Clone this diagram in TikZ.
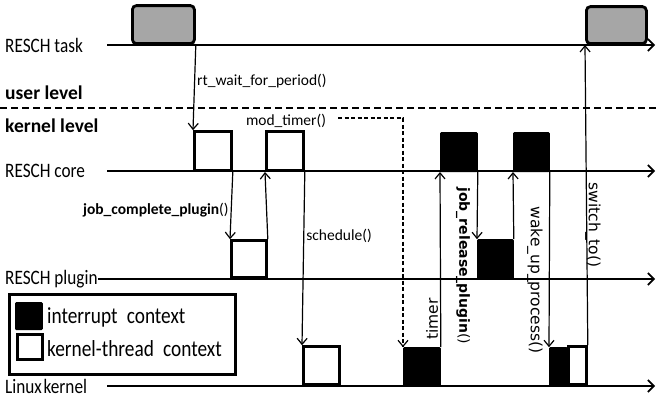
\documentclass[tikz,border=0pt]{standalone}
\usepackage{fontspec}
\setmainfont{Carlito}
\newfontfamily\rotfont{DejaVu Sans}
\usetikzlibrary{arrows.meta}
\tikzset{
  lane/.style={anchor=west,inner sep=0pt,xscale=0.84,font=\fontsize{20.5}{20.5}\selectfont},
  level/.style={anchor=west,inner sep=0pt,font=\fontsize{19.5}{19.5}\selectfont\bfseries},
  timeline/.style={line width=1.7pt,-{Straight Barb[length=6pt,width=12pt,line width=1.6pt]}},
  taskbox/.style={draw,line width=2.8pt,fill=gray!70,rounded corners=4pt,inner sep=0pt,anchor=south west},
  kthread/.style={draw,line width=2.8pt,fill=white,inner sep=0pt,anchor=south west},
  intr/.style={draw,line width=0.8pt,fill=black,rounded corners=1pt,inner sep=0pt,anchor=south west},
  call/.style={line width=1.2pt,-{Straight Barb[length=6pt,width=10pt,line width=1.2pt]}},
  dcall/.style={call,dash pattern=on 4pt off 2.5pt},
  callname/.style={inner sep=2pt,font=\fontsize{15.5}{15.5}\selectfont},
  rotname/.style={inner sep=0pt,font=\rotfont\fontsize{15.5}{15.5}\selectfont},
  legtext/.style={anchor=west,inner sep=0pt,xscale=0.84,font=\fontsize{23}{23}\selectfont}
}
\begin{document}
\begin{tikzpicture}[x=1pt,y={(0,-1pt)}]
\useasboundingbox (0,0) rectangle (659,399);

% lanes
\node[lane] (task) at (5,45) {RESCH task};
\node[lane] (core) at (5,171) {RESCH core};
\node[lane] (plugin) at (5,279) {RESCH plugin};
\node[lane] (linux) at (5,386) {Linux\hspace{0.1em}kernel};
\node[level] (user) at (5,93) {user level};
\node[level] (kernel) at (5,126) {kernel level};
\coordinate (ul) at (0,108);
\coordinate (ur) at (659,108);
\draw[line width=2.2pt,dash pattern=on 7pt off 4pt] (ul) -- (ur);
\draw[timeline] (107,45) -- (655,45);
\draw[timeline] (107,171) -- (655,171);
\draw[timeline] (plugin.east) -- (655,279);
\draw[timeline] (107,386) -- (655,386);

% boxes
\node[taskbox,minimum width=62,minimum height=38] (t1) at (131,45) {};
\node[taskbox,minimum width=60,minimum height=37] (t2) at (585,45) {};
\node[kthread,minimum width=37,minimum height=39] (c1) at (193,172) {};
\node[kthread,minimum width=37,minimum height=39] (c2) at (265,172) {};
\node[intr,minimum width=37,minimum height=39] (c3) at (440,172) {};
\node[intr,minimum width=36,minimum height=39] (c4) at (513,172) {};
\node[kthread,minimum width=35,minimum height=37] (p1) at (230,279) {};
\node[intr,minimum width=36,minimum height=39] (p2) at (477,279) {};
\node[kthread,minimum width=36,minimum height=38] (k1) at (302,386) {};
\node[intr,minimum width=37,minimum height=38] (k2) at (403,386) {};
\node[intr,minimum width=18,minimum height=38] (k3) at (549,386) {};
\node[kthread,minimum width=18,minimum height=38] (k4) at (567,386) {};

% calls
\draw[call] (t1.south east) -- node[callname,pos=0.42,right] (rtw) {rt\_wait\_for\_period()} (c1.north west);
\draw[call] (c1.south east) -- node[callname,pos=0.57,left] (jcp) {{\bfseries job\_complete\_plugin}()} (p1.north west);
\draw[call] (p1.north east) -- (c2.south west);
\draw[call] (c2.south east) -- node[callname,pos=0.37,right] (sch) {schedule()} (k1.north west);
\node[callname] (mtl) at (286,121) {mod\_timer()};
\coordinate (mt) at (338,118);
\draw[dcall] (mt) -| (k2.north west);
\draw[call] (k2.north east) -- (c3.south west);
\draw[call] (c3.south east) -- (p2.north west);
\draw[call] (p2.north east) -- (c4.south west);
\draw[call] (c4.south east) -- (k3.north west);
\draw[call] (k4.north east) -- (t2.south west);
\node[rotname,rotate=90] (tmr) at (432,319) {timer};
\node[rotname,rotate=-90,font=\rotfont\fontsize{14}{14}\selectfont] (jrp) at (463,266) {{\bfseries job\_release\_plugin}()};
\node[rotname,rotate=-90] (wup) at (535,280) {wake\_up\_process()};
\node[rotname,rotate=-90] (swt) at (593,225) {switch\_to()};

% legend
\node[draw,line width=3pt,fill=white,minimum width=226,minimum height=80,inner sep=0pt,anchor=north west] (legend) at (8,293) {};
\node[intr,minimum width=27,minimum height=27] (lb) at (15,330) {};
\node[kthread,minimum width=25,minimum height=25] (lw) at (16,361) {};
\node[legtext] (lint) at (47,317) {interrupt\hspace{0.25em} context};
\node[legtext] (lker) at (47,349) {kernel-thread\hspace{0.25em} context};
\end{tikzpicture}
\end{document}
